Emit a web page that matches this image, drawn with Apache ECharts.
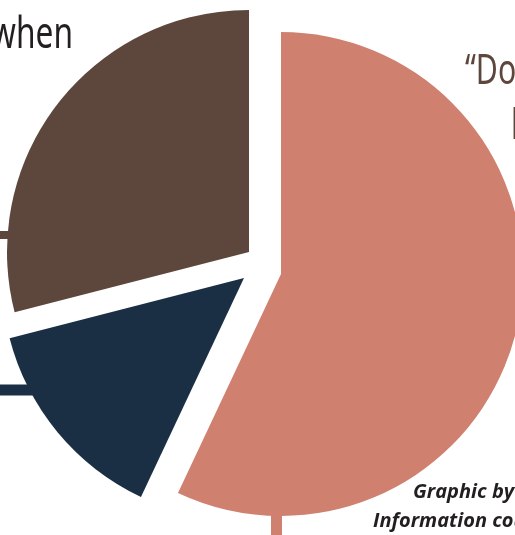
<!DOCTYPE html>
<html><head><meta charset="utf-8">
<script src="https://cdn.jsdelivr.net/npm/echarts@6/dist/echarts.min.js"></script>
<style>html,body{margin:0;padding:0;background:#fff;overflow:hidden}#c{width:515px;height:535px}</style>
</head><body><div id="c"></div>
<script>
// ---- data ----
const categories = ['“Don’t know”', 'Never', 'Only when asked'];
const values = [57, 14, 29];
const labelLines = ['“Don’t', 'know”'];
const leftLabelEnd = 'when';
const credits = ['Graphic by', 'Information courtesy of'];

// ---- styling / layout ----
const colors = ['#cf806f', '#1a2f44', '#5d463b'];
const centers = [[281, 274], [244, 278], [249, 252]];
const R = 242;

const chart = echarts.init(document.getElementById('c'), null, {renderer: 'canvas'});

const series = categories.map((name, k) => ({
  type: 'pie',
  name: name,
  center: centers[k],
  radius: R,
  startAngle: 90,
  clockwise: true,
  animation: false,
  avoidLabelOverlap: false,
  silent: true,
  label: {show: false},
  labelLine: {show: false},
  emphasis: {disabled: true},
  z: 2,
  data: categories.map((c, i) => ({
    name: c,
    value: values[i],
    itemStyle: {color: i === k ? colors[i] : 'rgba(0,0,0,0)'}
  }))
}));

const cond = '"Noto Sans", sans-serif';
const credFont = 'italic bold 20px "Open Sans", sans-serif';
const option = {
  backgroundColor: '#ffffff',
  series: series,
  graphic: [
    {type: 'line', z: 0, shape: {x1: 0, y1: 235, x2: 40, y2: 235}, style: {stroke: colors[2], lineWidth: 8}},
    {type: 'line', z: 0, shape: {x1: 0, y1: 390, x2: 60, y2: 390}, style: {stroke: colors[1], lineWidth: 11}},
    {type: 'line', z: 0, shape: {x1: 276.5, y1: 490, x2: 276.5, y2: 540}, style: {stroke: colors[0], lineWidth: 11}},
    {type: 'text', z: 10, x: 73, y: 13, scaleX: 0.72, style: {text: leftLabelEnd, font: '44px ' + cond, fill: '#231f20', align: 'right', verticalAlign: 'top'}},
    {type: 'text', z: 10, x: 465, y: 51.5, scaleX: 0.72, style: {text: labelLines[0], font: '42px ' + cond, fill: '#5d463b', align: 'left', verticalAlign: 'top'}},
    {type: 'text', z: 10, x: 511, y: 106.5, scaleX: 0.72, style: {text: labelLines[1], font: '42px ' + cond, fill: '#5d463b', align: 'left', verticalAlign: 'top'}},
    {type: 'text', z: 10, x: 413, y: 482.5, style: {text: credits[0], font: credFont, fill: '#231f20', align: 'left', verticalAlign: 'top'}},
    {type: 'text', z: 10, x: 373, y: 511.5, style: {text: credits[1], font: credFont, fill: '#231f20', align: 'left', verticalAlign: 'top'}}
  ]
};
chart.setOption(option);
</script></body></html>
